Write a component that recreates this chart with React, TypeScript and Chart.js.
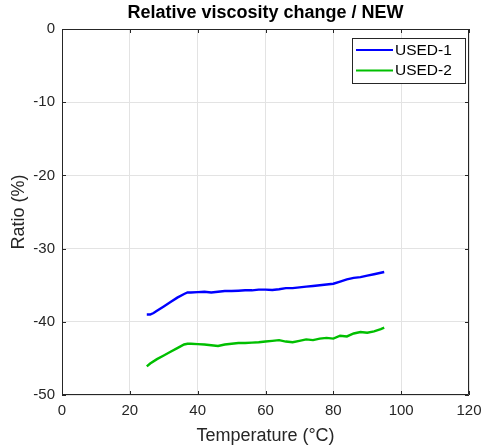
import React, { useEffect, useRef } from "react";
import { Chart, registerables } from "chart.js";

Chart.register(...registerables);

const titleText = "Relative viscosity change / NEW";
const xTitle = "Temperature (°C)";
const yTitle = "Ratio (%)";
const seriesNames = ["USED-1", "USED-2"];
const seriesColors = ["#0000ff", "#00bf00"];

const xTicks = [0, 20, 40, 60, 80, 100, 120];
const yTicks = [0, -10, -20, -30, -40, -50];

const used1X = [25, 26, 27, 28, 30, 32, 34, 36, 37, 38, 40, 42, 44, 46, 48, 50, 52, 54, 56, 58, 60, 62, 64, 66, 68, 70, 72, 74, 76, 78, 80, 82, 84, 86, 88, 90, 92, 94, 95];
const used1Y = [-39.0, -39.0, -38.8, -38.5, -37.9, -37.3, -36.7, -36.2, -36.0, -36.0, -35.95, -35.9, -36.0, -35.9, -35.8, -35.8, -35.75, -35.7, -35.7, -35.6, -35.6, -35.65, -35.55, -35.4, -35.4, -35.3, -35.2, -35.1, -35.0, -34.9, -34.8, -34.5, -34.2, -34.0, -33.9, -33.7, -33.5, -33.3, -33.2];

const used2X = [25, 26, 28, 30, 32, 34, 36, 37, 38, 40, 42, 44, 46, 48, 50, 52, 54, 56, 58, 60, 62, 64, 66, 68, 70, 72, 74, 76, 78, 80, 82, 84, 86, 88, 90, 92, 94, 95];
const used2Y = [-46.1, -45.7, -45.1, -44.6, -44.1, -43.6, -43.1, -43.0, -43.0, -43.05, -43.1, -43.2, -43.3, -43.1, -43.0, -42.9, -42.9, -42.85, -42.8, -42.7, -42.6, -42.5, -42.7, -42.8, -42.6, -42.4, -42.5, -42.3, -42.2, -42.3, -41.9, -42.0, -41.6, -41.4, -41.5, -41.3, -41.0, -40.8];

const FONT = "'Liberation Sans', Arial, Helvetica, sans-serif";
const TEXT = "#262626";

const frameTicksPlugin = {
  id: "frameTicks",
  afterDatasetsDraw(chart: any) {
    const { ctx, chartArea, scales } = chart;
    const { left, right, top, bottom } = chartArea;
    const L = 4;
    ctx.save();
    ctx.strokeStyle = TEXT;
    ctx.lineWidth = 1;
    ctx.beginPath();
    ctx.rect(left + 0.5, top + 0.5, right - left - 1, bottom - top - 1);
    xTicks.forEach((v) => {
      const px = Math.round(scales.x.getPixelForValue(v)) + 0.5;
      ctx.moveTo(px, bottom);
      ctx.lineTo(px, bottom - L);
      ctx.moveTo(px, top);
      ctx.lineTo(px, top + L);
    });
    yTicks.forEach((v) => {
      const py = Math.round(scales.y.getPixelForValue(v)) + 0.5;
      ctx.moveTo(left, py);
      ctx.lineTo(left + L, py);
      ctx.moveTo(right, py);
      ctx.lineTo(right - L, py);
    });
    ctx.stroke();
    ctx.restore();
  },
};

const boxLegendPlugin = {
  id: "boxLegend",
  afterDraw(chart: any) {
    const { ctx, chartArea } = chart;
    const bx = chartArea.right - 117;
    const by = chartArea.top + 9;
    const bw = 113;
    const bh = 45;
    ctx.save();
    ctx.fillStyle = "#ffffff";
    ctx.fillRect(bx, by, bw, bh);
    ctx.strokeStyle = TEXT;
    ctx.lineWidth = 1;
    ctx.strokeRect(bx + 0.5, by + 0.5, bw, bh);
    ctx.font = `15.5px ${FONT}`;
    ctx.textBaseline = "middle";
    ctx.textAlign = "left";
    chart.data.datasets.forEach((ds: any, i: number) => {
      const cy = by + 12 + i * 20.5;
      ctx.strokeStyle = ds.borderColor;
      ctx.lineWidth = 2;
      ctx.beginPath();
      ctx.moveTo(bx + 4, cy);
      ctx.lineTo(bx + 41, cy);
      ctx.stroke();
      ctx.fillStyle = "#000000";
      ctx.fillText(ds.label, bx + 43, cy + 0.5);
    });
    ctx.restore();
  },
};

export default function App() {
  const ref = useRef<HTMLCanvasElement | null>(null);
  useEffect(() => {
    document.body.style.margin = "0";
    const canvas = ref.current;
    if (!canvas) return;
    const chart = new Chart(canvas, {
      type: "line",
      data: {
        datasets: [
          {
            label: seriesNames[0],
            data: used1X.map((x, i) => ({ x, y: used1Y[i] })),
            borderColor: seriesColors[0],
            backgroundColor: seriesColors[0],
            borderWidth: 2.4,
            pointRadius: 0,
            tension: 0,
          },
          {
            label: seriesNames[1],
            data: used2X.map((x, i) => ({ x, y: used2Y[i] })),
            borderColor: seriesColors[1],
            backgroundColor: seriesColors[1],
            borderWidth: 2.4,
            pointRadius: 0,
            tension: 0,
          },
        ],
      },
      options: {
        animation: false,
        responsive: false,
        devicePixelRatio: 1,
        layout: { padding: { left: 0, right: 13, top: 0, bottom: 0 } },
        plugins: {
          legend: { display: false },
          tooltip: { enabled: false },
          title: {
            display: true,
            fullSize: false,
            text: titleText,
            color: "#000000",
            font: { family: FONT, size: 18, weight: "bold" },
            padding: { top: 2.4, bottom: 5 },
          },
        },
        scales: {
          x: {
            type: "linear",
            min: 0,
            max: 120,
            afterBuildTicks: (s: any) => {
              s.ticks = xTicks.map((v) => ({ value: v }));
            },
            afterFit: (s: any) => {
              s.height = 52;
              s.paddingRight = 0;
              s.paddingLeft = 0;
            },
            border: { display: false },
            grid: { color: "#e3e3e3", drawTicks: false },
            ticks: {
              color: TEXT,
              font: { family: FONT, size: 15 },
              padding: 7,
              maxRotation: 0,
            },
            title: {
              display: true,
              text: xTitle,
              color: TEXT,
              font: { family: FONT, size: 18 },
              padding: { top: 0, bottom: 0 },
            },
          },
          y: {
            type: "linear",
            min: -50,
            max: 0,
            afterBuildTicks: (s: any) => {
              s.ticks = yTicks.map((v) => ({ value: v }));
            },
            afterFit: (s: any) => {
              s.width = 62;
              s.paddingTop = 0;
              s.paddingBottom = 0;
            },
            border: { display: false },
            grid: { color: "#e3e3e3", drawTicks: false },
            ticks: {
              color: TEXT,
              font: { family: FONT, size: 15 },
              padding: 7,
            },
            title: {
              display: true,
              text: yTitle,
              color: TEXT,
              font: { family: FONT, size: 18 },
              padding: { top: 8, bottom: 0 },
            },
          },
        },
      },
      plugins: [frameTicksPlugin, boxLegendPlugin],
    });
    return () => chart.destroy();
  }, []);
  return <canvas ref={ref} width={482} height={447} style={{ display: "block" }} />;
}
